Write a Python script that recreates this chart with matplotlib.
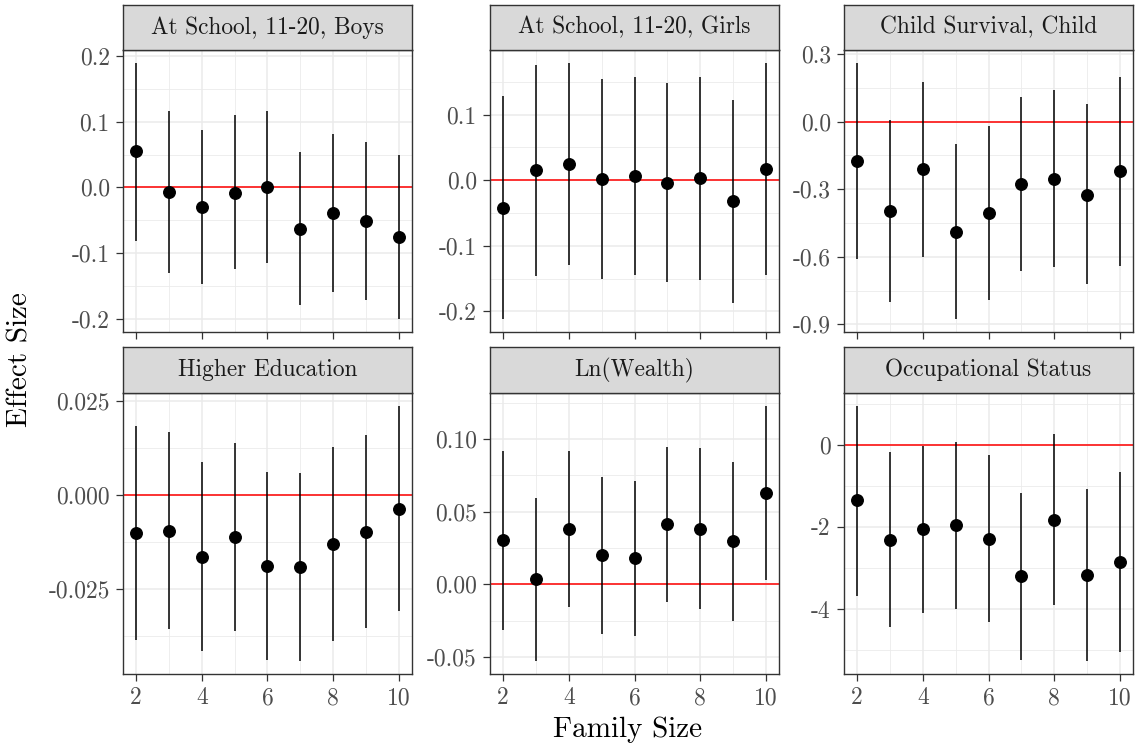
import numpy as np
import matplotlib
matplotlib.use("Agg")
import matplotlib.pyplot as plt

plt.rcParams["font.family"] = "cmr10"
plt.rcParams["axes.unicode_minus"] = False
plt.rcParams["axes.formatter.use_mathtext"] = True

family_size = [2, 3, 4, 5, 6, 7, 8, 9, 10]
x_breaks = [2, 4, 6, 8, 10]

titles = [
    "At School, 11-20, Boys",
    "At School, 11-20, Girls",
    "Child Survival, Child",
    "Higher Education",
    "Ln(Wealth)",
    "Occupational Status",
]

# point estimates and confidence bounds per outcome
boys_est = [0.055, -0.007, -0.030, -0.008, 0.001, -0.063, -0.039, -0.051, -0.076]
boys_lo = [-0.081, -0.130, -0.148, -0.125, -0.116, -0.179, -0.160, -0.172, -0.201]
boys_hi = [0.190, 0.117, 0.088, 0.110, 0.117, 0.054, 0.081, 0.069, 0.050]

girls_est = [-0.042, 0.015, 0.025, 0.002, 0.006, -0.004, 0.003, -0.032, 0.017]
girls_lo = [-0.212, -0.146, -0.129, -0.151, -0.145, -0.156, -0.152, -0.187, -0.145]
girls_hi = [0.128, 0.176, 0.179, 0.155, 0.157, 0.148, 0.157, 0.122, 0.179]

surv_est = [-0.173, -0.397, -0.210, -0.489, -0.406, -0.277, -0.253, -0.324, -0.221]
surv_lo = [-0.609, -0.800, -0.599, -0.877, -0.791, -0.664, -0.647, -0.721, -0.640]
surv_hi = [0.261, 0.009, 0.176, -0.099, -0.021, 0.111, 0.142, 0.076, 0.200]

educ_est = [-0.0102, -0.0096, -0.0165, -0.0111, -0.0190, -0.0193, -0.0131, -0.0098, -0.0037]
educ_lo = [-0.0386, -0.0358, -0.0415, -0.0362, -0.0439, -0.0443, -0.0389, -0.0355, -0.0310]
educ_hi = [0.0182, 0.0166, 0.0086, 0.0139, 0.0060, 0.0057, 0.0127, 0.0160, 0.0237]

wealth_est = [0.0302, 0.0034, 0.0382, 0.0199, 0.0178, 0.0414, 0.0382, 0.0295, 0.0631]
wealth_lo = [-0.0316, -0.0530, -0.0155, -0.0343, -0.0357, -0.0123, -0.0169, -0.0256, 0.0032]
wealth_hi = [0.0921, 0.0592, 0.0921, 0.0738, 0.0713, 0.0946, 0.0937, 0.0846, 0.1230]

occ_est = [-1.358, -2.311, -2.061, -1.964, -2.287, -3.200, -1.826, -3.176, -2.853]
occ_lo = [-3.677, -4.436, -4.105, -4.008, -4.307, -5.228, -3.911, -5.269, -5.050]
occ_hi = [0.945, -0.178, -0.032, 0.073, -0.259, -1.180, 0.250, -1.091, -0.655]

y_breaks = [
    [-0.2, -0.1, 0.0, 0.1, 0.2],
    [-0.2, -0.1, 0.0, 0.1],
    [-0.9, -0.6, -0.3, 0.0, 0.3],
    [-0.025, 0.0, 0.025],
    [-0.05, 0.0, 0.05, 0.10],
    [-4, -2, 0],
]
y_fmt = ["{:.1f}", "{:.1f}", "{:.1f}", "{:.3f}", "{:.2f}", "{:.0f}"]

series = [
    (boys_est, boys_lo, boys_hi),
    (girls_est, girls_lo, girls_hi),
    (surv_est, surv_lo, surv_hi),
    (educ_est, educ_lo, educ_hi),
    (wealth_est, wealth_lo, wealth_hi),
    (occ_est, occ_lo, occ_hi),
]

W, H = 1136, 748
fig = plt.figure(figsize=(W / 100, H / 100), dpi=100)

col_left = [123, 490, 844]
panel_w = 289
rows = [(5, 50, 332), (347, 393, 674)]  # strip top, panel top, panel bottom

dark = "#333333"
grid_col = "#EBEBEB"


def fmt_label(fmt, v):
    s = fmt.format(v)
    if s.startswith("-") and float(s) == 0:
        s = s[1:]
    return s


for i, (title, (est, lo, hi)) in enumerate(zip(titles, series)):
    r, c = divmod(i, 3)
    s_top, p_top, p_bot = rows[r]
    left = col_left[c] / W

    ax = fig.add_axes([left, 1 - p_bot / H, panel_w / W, (p_bot - p_top) / H])
    strip = fig.add_axes([left, 1 - p_top / H, panel_w / W, (p_top - s_top) / H])

    lo_all, hi_all = min(lo), max(hi)
    pad = 0.05 * (hi_all - lo_all)
    ylim = (lo_all - pad, hi_all + pad)
    ax.set_xlim(1.6, 10.4)
    ax.set_ylim(*ylim)

    br = y_breaks[i]
    step = br[1] - br[0]
    minor = np.arange(br[0] - step / 2, br[-1] + step, step)
    minor = [m for m in minor if ylim[0] <= m <= ylim[1]]
    for m in minor:
        ax.axhline(m, color=grid_col, lw=0.6, zorder=0)
    for b in br:
        ax.axhline(b, color=grid_col, lw=1.1, zorder=0)
    for xm in [3, 5, 7, 9]:
        ax.axvline(xm, color=grid_col, lw=0.6, zorder=0)
    for xb in x_breaks:
        ax.axvline(xb, color=grid_col, lw=1.1, zorder=0)

    ax.axhline(0, color="red", lw=1.1, zorder=1)
    ax.vlines(family_size, lo, hi, color="black", lw=1.1, zorder=2)
    ax.plot(family_size, est, "o", color="black", ms=8.3, zorder=3)

    ax.set_yticks(br)
    ax.set_yticklabels([fmt_label(y_fmt[i], b) for b in br])
    ax.set_xticks(x_breaks)
    if r == 1:
        ax.set_xticklabels([str(v) for v in x_breaks])
    else:
        ax.set_xticklabels([])
    ax.tick_params(length=5, width=0.9, color=dark, labelcolor="#4D4D4D",
                   labelsize=17, pad=4.5)
    for sp in ax.spines.values():
        sp.set_color(dark)
        sp.set_linewidth(1.0)

    strip.set_facecolor("#D9D9D9")
    strip.set_xticks([])
    strip.set_yticks([])
    for sp in strip.spines.values():
        sp.set_color(dark)
        sp.set_linewidth(1.0)
    strip.text(0.5, 0.5, title, ha="center", va="center", fontsize=16.8,
               color="#1A1A1A", transform=strip.transAxes)

fig.text(628 / W, 1 - 730 / H, "Family Size", ha="center", va="center",
         fontsize=21, color="black")
fig.text(20 / W, 1 - 360 / H, "Effect Size", ha="center", va="center",
         fontsize=21, rotation=90, color="black")

fig.savefig("out.png", dpi=100)
